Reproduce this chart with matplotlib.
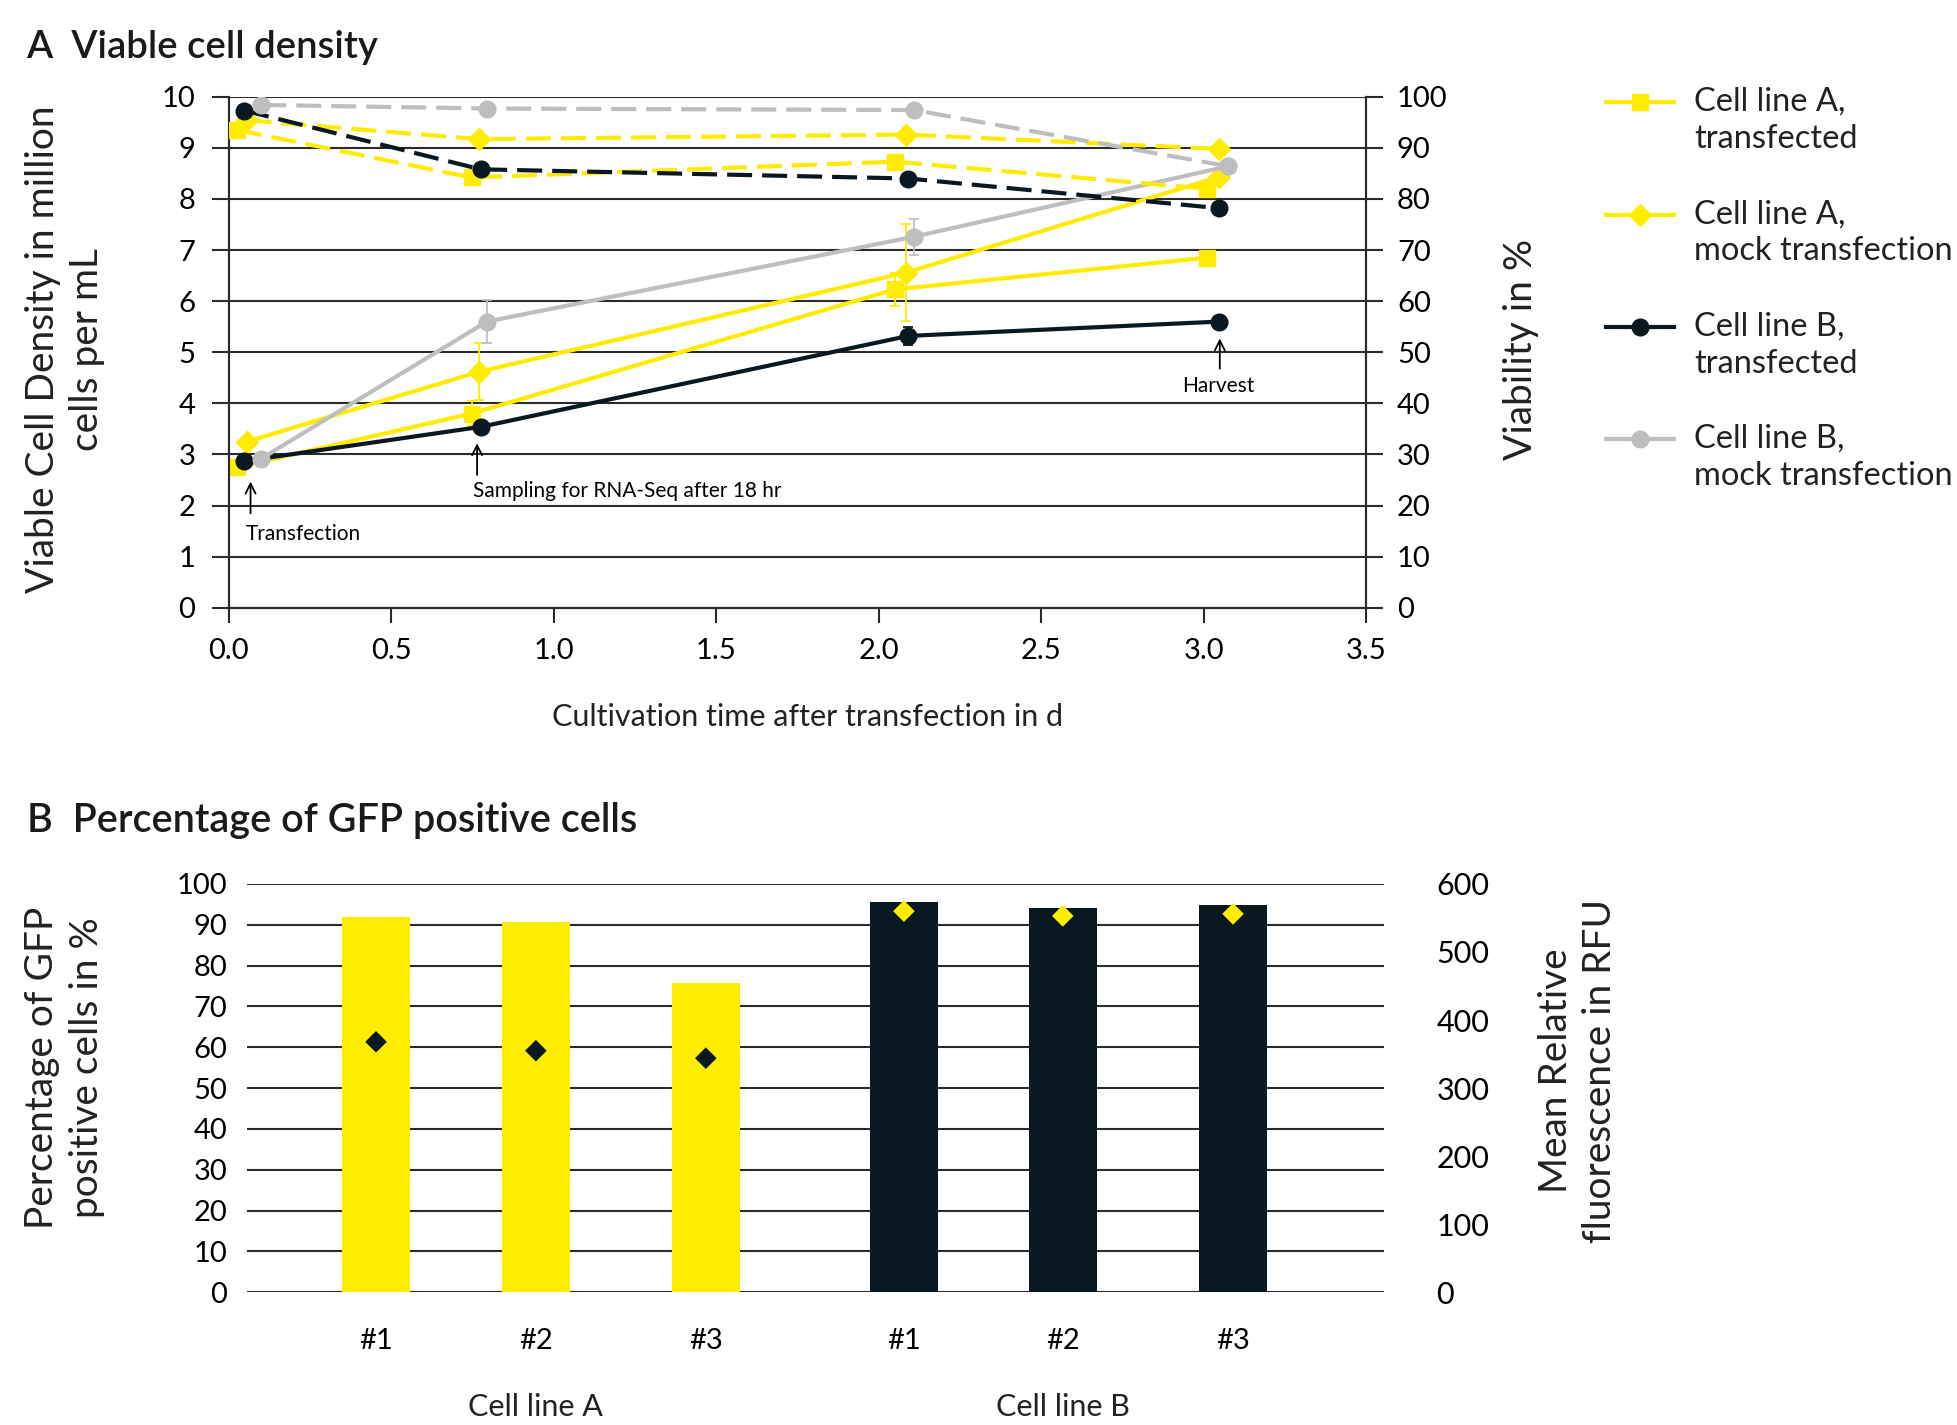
import matplotlib
matplotlib.use('Agg')
import matplotlib.pyplot as plt
import numpy as np
from matplotlib.legend_handler import HandlerLine2D
from matplotlib.transforms import blended_transform_factory

plt.rcParams['font.family'] = ['Lato', 'DejaVu Sans']

YELLOW = '#FFEC00'
NAVY = '#0A1822'
GRAY = '#BDBEC0'
GRID = '#2B2B2B'

# --- panel A data: time (d), viable cell density (1e6/mL), sd, viability (%)
t_a_tr = [0.025, 0.747, 2.049, 3.009]
vcd_a_tr = [2.75, 3.80, 6.23, 6.85]
err_a_tr = [0, 0.25, 0.33, 0]
via_a_tr = [93.5, 84.2, 87.3, 82.0]

t_a_mock = [0.055, 0.771, 2.084, 3.046]
vcd_a_mock = [3.25, 4.62, 6.56, 8.43]
err_a_mock = [0, 0.56, 0.95, 0]
via_a_mock = [95.4, 91.7, 92.6, 89.8]

t_b_tr = [0.048, 0.775, 2.091, 3.046]
vcd_b_tr = [2.87, 3.54, 5.32, 5.60]
err_b_tr = [0, 0, 0.18, 0]
via_b_tr = [97.3, 85.8, 84.0, 78.2]

t_b_mock = [0.10, 0.794, 2.107, 3.075]
vcd_b_mock = [2.92, 5.60, 7.26, 8.64]
err_b_mock = [0, 0.42, 0.35, 0]
via_b_mock = [98.4, 97.7, 97.4, 86.4]

labels_a = ['Cell line A,\ntransfected', 'Cell line A,\nmock transfection',
            'Cell line B,\ntransfected', 'Cell line B,\nmock transfection']

# --- panel B data
clones = ['#1', '#2', '#3', '#1', '#2', '#3']
gfp_pct = [91.8, 90.8, 75.8, 95.6, 94.2, 94.9]
rfu = [368, 355, 344, 560, 553, 556]
bar_pos = [0.809, 1.808, 2.870, 4.108, 5.101, 6.165]
groups = ['Cell line A', 'Cell line B']

fig = plt.figure(figsize=(19.57, 14.25), dpi=100)

# ---------------- panel A
ax1 = fig.add_axes([0.1169, 0.5735, 0.5813, 0.3586])
ax1b = ax1.twinx()

series = [
    (t_a_tr, vcd_a_tr, err_a_tr, via_a_tr, YELLOW, 's', 11),
    (t_a_mock, vcd_a_mock, err_a_mock, via_a_mock, YELLOW, 'D', 11),
    (t_b_tr, vcd_b_tr, err_b_tr, via_b_tr, NAVY, 'o', 12),
    (t_b_mock, vcd_b_mock, err_b_mock, via_b_mock, GRAY, 'o', 12),
]
handles = []
for t, vcd, err, via, col, mk, ms in series:
    ax1.errorbar(t, vcd, yerr=err, fmt='none', ecolor=col, elinewidth=1.3,
                 capsize=3.5, capthick=1.3, zorder=2)
    ln, = ax1.plot(t, vcd, color=col, lw=3, marker=mk, ms=ms, zorder=3)
    handles.append(ln)
    ax1b.plot(t, via, color=col, lw=3, ls=(0, (6, 2.4)), marker=mk, ms=ms,
              zorder=3)

ax1.set_xlim(0, 3.5)
ax1.set_ylim(0, 10)
ax1b.set_ylim(0, 100)
ax1.set_xticks(np.arange(0, 3.51, 0.5))
ax1.set_xticklabels([f'{v:.1f}' for v in np.arange(0, 3.51, 0.5)])
ax1.set_yticks(range(0, 11))
ax1b.set_yticks(range(0, 101, 10))
ax1.set_axisbelow(True)
ax1.grid(axis='y', color=GRID, lw=1.5)

for a in (ax1, ax1b):
    a.spines['top'].set_visible(False)
    for s in a.spines.values():
        s.set_color(GRID)
        s.set_linewidth(1.5)
ax1.tick_params(axis='y', length=12, width=1.5, pad=12, labelsize=21, color=GRID)
ax1b.tick_params(axis='y', length=12, width=1.5, pad=10, labelsize=21, color=GRID)
ax1.tick_params(axis='x', length=11, width=1.5, pad=11, labelsize=21, color=GRID)

arrow = dict(arrowstyle='->', lw=1.3, color='black', mutation_scale=18,
             shrinkA=0, shrinkB=0)
ax1.annotate('', xy=(0.067, 2.47), xytext=(0.067, 1.85), arrowprops=arrow)
ax1.text(0.053, 1.44, 'Transfection', fontsize=15, ha='left', va='center')
ax1.annotate('', xy=(0.764, 3.22), xytext=(0.764, 2.6), arrowprops=arrow)
ax1.text(0.75, 2.29, 'Sampling for RNA-Seq after 18 hr', fontsize=15,
         ha='left', va='center')
ax1.annotate('', xy=(3.049, 5.27), xytext=(3.049, 4.68), arrowprops=arrow)
ax1.text(3.045, 4.34, 'Harvest', fontsize=15, ha='center', va='center')


class FirstLineHandler(HandlerLine2D):
    # put the legend key next to the first line of a two-line label
    def create_artists(self, *args, **kwargs):
        arts = super().create_artists(*args, **kwargs)
        for a in arts:
            a.set_ydata(np.asarray(a.get_ydata()) + 13.5)
        return arts


leg = fig.legend(handles, labels_a, loc='upper left',
                 bbox_to_anchor=(0.8206, 0.939), frameon=False, fontsize=23.5,
                 borderpad=0, borderaxespad=0, handlelength=2.1,
                 handletextpad=0.6, labelspacing=1.38,
                 handler_map={h: FirstLineHandler() for h in handles})
for txt in leg.get_texts():
    txt.set_color('#222222')
    txt.set_linespacing(1.3)

fig.text(0.0133, 0.959, 'A  Viable cell density', fontsize=27.5,
         fontweight='semibold', va='baseline', color='#1a1a1a')
fig.text(0.0332, 0.7547, 'Viable Cell Density in million\ncells per mL',
         rotation=90, ha='center', va='center', fontsize=28, linespacing=1.3,
         color='#222222')
fig.text(0.7772, 0.7551, 'Viability in %', rotation=90, ha='center',
         va='center', fontsize=28, color='#222222')
fig.text(0.4124, 0.4965, 'Cultivation time after transfection in d',
         ha='center', va='center', fontsize=22, color='#222222')

# ---------------- panel B
ax2 = fig.add_axes([0.1260, 0.0931, 0.5810, 0.2866])
ax2b = ax2.twinx()
bar_colors = [YELLOW] * 3 + [NAVY] * 3
dia_colors = [NAVY] * 3 + [YELLOW] * 3
ax2.bar(bar_pos, gfp_pct, width=0.424, color=bar_colors, zorder=2)
ax2b.scatter(bar_pos, rfu, marker='D', s=11 ** 2, c=dia_colors,
             linewidths=0, zorder=3)

ax2.set_xlim(0, 7.106)
ax2.set_ylim(0, 100)
ax2b.set_ylim(0, 600)
ax2.set_yticks(range(0, 101, 10))
ax2b.set_yticks(range(0, 601, 100))
ax2.set_xticks(bar_pos)
ax2.set_xticklabels(clones)
ax2.set_axisbelow(True)
ax2.grid(axis='y', color=GRID, lw=1.5)
for a in (ax2, ax2b):
    for s in a.spines.values():
        s.set_visible(False)
ax2.tick_params(axis='y', length=0, pad=14, labelsize=21)
ax2b.tick_params(axis='y', length=0, pad=38, labelsize=22)
ax2.tick_params(axis='x', length=0, pad=26, labelsize=21)

trans = blended_transform_factory(ax2.transData, ax2.transAxes)
for i, name in enumerate(groups):
    ax2.text(bar_pos[3 * i + 1], -0.28, name, transform=trans, ha='center',
             va='center', fontsize=22, color='#222222')

fig.text(0.0137, 0.4164, 'B  Percentage of GFP positive cells', fontsize=28.5,
         fontweight='semibold', va='baseline', color='#1a1a1a')
fig.text(0.0329, 0.2505, 'Percentage of GFP\npositive cells in %',
         rotation=90, ha='center', va='center', fontsize=28, linespacing=1.3,
         color='#222222')
fig.text(0.8063, 0.2484, 'Mean Relative\nfluorescence in RFU', rotation=90,
         ha='center', va='center', fontsize=28, linespacing=1.3,
         color='#222222')

fig.savefig('out.png', dpi=100)
